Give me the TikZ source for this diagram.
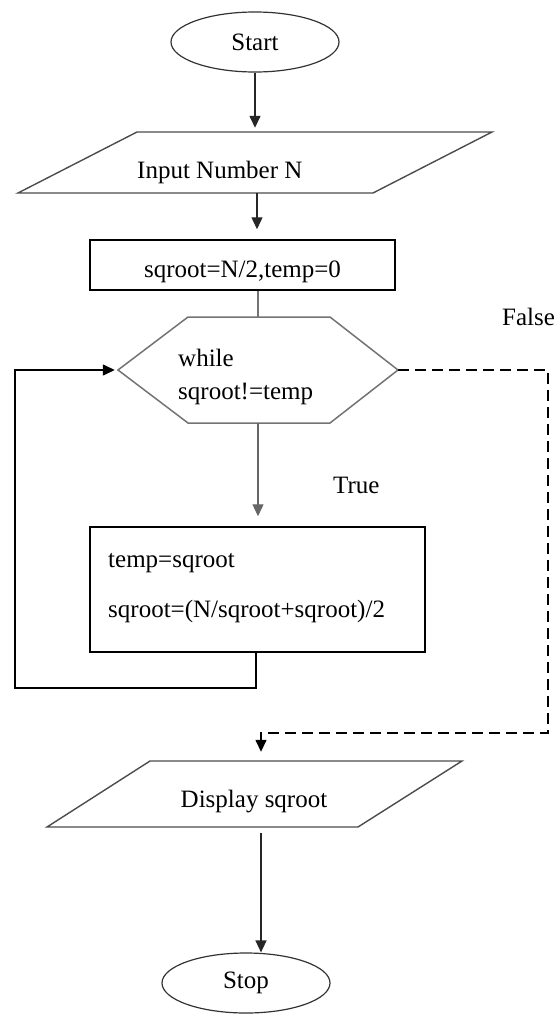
\documentclass[tikz,border=0pt]{standalone}
\usepackage{fontspec}
\setmainfont{Liberation Serif}
\usetikzlibrary{shapes.geometric,arrows.meta}
\begin{document}
\begin{tikzpicture}[x=1pt,y=-1pt,
  font=\fontsize{25}{30}\selectfont,
  term/.style={ellipse, draw=black!80, line width=1.2pt, minimum width=168pt,
               minimum height=60pt, inner sep=0pt},
  procbox/.style={draw=black, line width=1.5pt, inner sep=0pt},
  iobox/.style={draw=black!70, line width=1.4pt, line join=miter},
  hexline/.style={draw=black!55, line width=1.5pt},
  frame/.style={inner sep=0pt},
  txt/.style={anchor=base west, inner sep=0pt},
  conn/.style={draw=black!85, line width=1.4pt},
  arr/.style={conn, -{Triangle[length=12pt,width=11pt]}},
  falsepath/.style={arr, draw=black, dash pattern=on 11pt off 6pt}]

\useasboundingbox (0,0) rectangle (557,1014);

% terminals
\node[term] (start) at (255,42) {Start};
\node[term] (stop) at (246,983) {Stop};

% input parallelogram
\draw[iobox] (137,132) -- (492,132) -- (373,193) -- (18,193) -- cycle;
\node[frame, minimum width=474pt, minimum height=61pt] (input) at (257,162.5) {};
\node[txt] (inputT) at (137,178) {Input Number N};

% initialisation
\node[procbox, minimum width=305pt, minimum height=50pt] (init) at (242.5,265) {};
\node[anchor=base, inner sep=0pt] (initT) at (242.5,277) {sqroot=N/2,temp=0};

% loop test (hexagon)
\draw[hexline] (188,317) -- (330,317) -- (398,370) -- (330,423) -- (188,423) -- (118,370) -- cycle;
\node[frame, minimum width=280pt, minimum height=106pt] (loop) at (258,370) {};
\node[txt] (loopA) at (178,366) {while};
\node[txt] (loopB) at (178,399) {sqroot!=temp};

% loop body
\node[procbox, minimum width=335pt, minimum height=125pt] (body) at (257.5,589.5) {};
\node[txt] (bodyA) at (108,567) {temp=sqroot};
\node[txt] (bodyB) at (108,617) {sqroot=(N/sqroot+sqroot)/2};

% output parallelogram
\draw[iobox] (150,761) -- (462,761) -- (358,827) -- (47,827) -- cycle;
\node[frame, minimum width=415pt, minimum height=66pt] (display) at (261,794) {};
\node[anchor=base, inner sep=0pt] (displayT) at (254,807) {Display sqroot};

% branch labels
\node[txt] (falseL) at (502,325) {False};
\node[txt] (trueL) at (333,493) {True};

% bends
\coordinate (backL) at (15,688);
\coordinate (falseR) at (548,733);

% connectors
\draw[arr, shorten >=4pt] (start.south) -- (start.south |- input.north);
\draw[arr, shorten >=10pt] (input.south) -- (input.south |- init.north);
\draw[conn, draw=black!55] (init.south -| loop.north) -- (loop.north);
\draw[arr, draw=black!60, shorten >=10pt] (loop.south) -- (loop.south |- body.north);
\draw[arr, draw=black, shorten >=3pt] (body.south -| 256,0) |- (backL) |- (loop.west);
\draw[falsepath, shorten >=9pt] (loop.east) -| (falseR) -| (display.north);
\draw[arr, shorten <=6pt] (display.south) -- (display.south |- stop.north);

\end{tikzpicture}
\end{document}
